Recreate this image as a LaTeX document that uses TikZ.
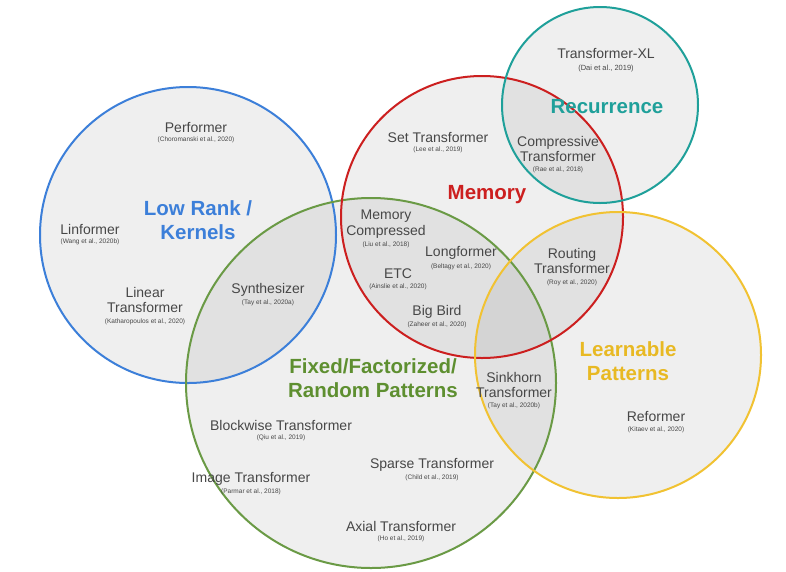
\documentclass[tikz,border=0pt]{standalone}
\usepackage{fontspec}
\setmainfont{Liberation Sans}
\begin{document}
\begin{tikzpicture}[x=1pt,y=-1pt,
  ring/.style={line width=2pt},
  disc/.style={fill=black!55,fill opacity=0.11,draw=none},
  mname/.style={text=black!72,font=\fontsize{14}{15.5}\selectfont,align=center,inner sep=0pt},
  mcite/.style={text=black!72,font=\fontsize{6.5}{7}\selectfont,inner sep=0pt},
  mcat/.style={font=\bfseries\fontsize{20.5}{24.5}\selectfont,align=center,inner sep=0pt}]
\definecolor{cblue}{HTML}{3C7FD9}
\definecolor{cred}{HTML}{CC1F1F}
\definecolor{cteal}{HTML}{1FA09A}
\definecolor{cyel}{HTML}{F1C232}
\definecolor{cgreen}{HTML}{6A9A45}
\definecolor{tyel}{HTML}{E8B923}
\definecolor{tgreen}{HTML}{5E8F30}
\useasboundingbox (0,0) rectangle (786,571);
\fill[white] (0,0) rectangle (786,571);
% fills
\fill[disc] (188,235) circle [radius=148];
\fill[disc] (371,383) circle [radius=185];
\fill[disc] (482,217) circle [radius=141];
\fill[disc] (600,105) circle [radius=98];
\fill[disc] (618,355) circle [radius=143];
% rings
\draw[ring,cblue] (188,235) circle [radius=148];
\draw[ring,cgreen] (371,383) circle [radius=185];
\draw[ring,cred] (482,217) circle [radius=141];
\draw[ring,cteal] (600,105) circle [radius=98];
\draw[ring,cyel] (618,355) circle [radius=143];
% category labels
\node[mcat,text=cblue] (lowrank) at (198,220) {Low Rank /\\Kernels};
\node[mcat,text=cred] (memory) at (487,195) {Memory};
\node[mcat,text=cteal] (recurrence) at (607,107) {Recurrence};
\node[mcat,text=tgreen] (fixed) at (373,378) {Fixed/Factorized/\\Random Patterns};
\node[mcat,text=tyel] (learnable) at (628,361) {Learnable\\Patterns};
% models
\node[mname] (performer) at (196,127) {Performer};
\node[mcite] (performerc) at (196,140) {(Choromanski et al., 2020)};
\node[mname] (linformer) at (90,229) {Linformer};
\node[mcite] (linformerc) at (90,242) {(Wang et al., 2020b)};
\node[mname] (linear) at (145,300) {Linear\\Transformer};
\node[mcite] (linearc) at (145,322) {(Katharopoulos et al., 2020)};
\node[mname] (synth) at (268,290) {Synthesizer};
\node[mcite] (synthc) at (268,303) {(Tay et al., 2020a)};
\node[mname] (settr) at (438,137) {Set Transformer};
\node[mcite] (settrc) at (438,150) {(Lee et al., 2019)};
\node[mname] (memcomp) at (386,224) {Memory\\Compressed};
\node[mcite] (memcompc) at (386,245) {(Liu et al., 2018)};
\node[mname] (longf) at (461,253) {Longformer};
\node[mcite] (longfc) at (461,267) {(Beltagy et al., 2020)};
\node[mname] (etc) at (398,274) {ETC};
\node[mcite] (etcc) at (398,287) {(Ainslie et al., 2020)};
\node[mname] (bigbird) at (437,312) {Big Bird};
\node[mcite] (bigbirdc) at (437,325) {(Zaheer et al., 2020)};
\node[mname] (txl) at (606,53) {Transformer-XL};
\node[mcite,font=\fontsize{7.5}{8}\selectfont] (txlc) at (606,69) {(Dai et al., 2019)};
\node[mname] (compr) at (558,149) {Compressive\\Transformer};
\node[mcite] (comprc) at (558,170) {(Rae et al., 2018)};
\node[mname] (routing) at (572,261) {Routing\\Transformer};
\node[mcite] (routingc) at (572,283) {(Roy et al., 2020)};
\node[mname] (sinkhorn) at (514,385) {Sinkhorn\\Transformer};
\node[mcite] (sinkhornc) at (514,406) {(Tay et al., 2020b)};
\node[mname] (reformer) at (656,416) {Reformer};
\node[mcite] (reformerc) at (656,430) {(Kitaev et al., 2020)};
\node[mname] (blockwise) at (281,425) {Blockwise Transformer};
\node[mcite] (blockwisec) at (281,438) {(Qiu et al., 2019)};
\node[mname] (sparse) at (432,465) {Sparse Transformer};
\node[mcite] (sparsec) at (432,478) {(Child et al., 2019)};
\node[mname] (image) at (251,479) {Image Transformer};
\node[mcite] (imagec) at (251,492) {(Parmar et al., 2018)};
\node[mname] (axial) at (401,526) {Axial Transformer};
\node[mcite] (axialc) at (401,539) {(Ho et al., 2019)};
\end{tikzpicture}
\end{document}
